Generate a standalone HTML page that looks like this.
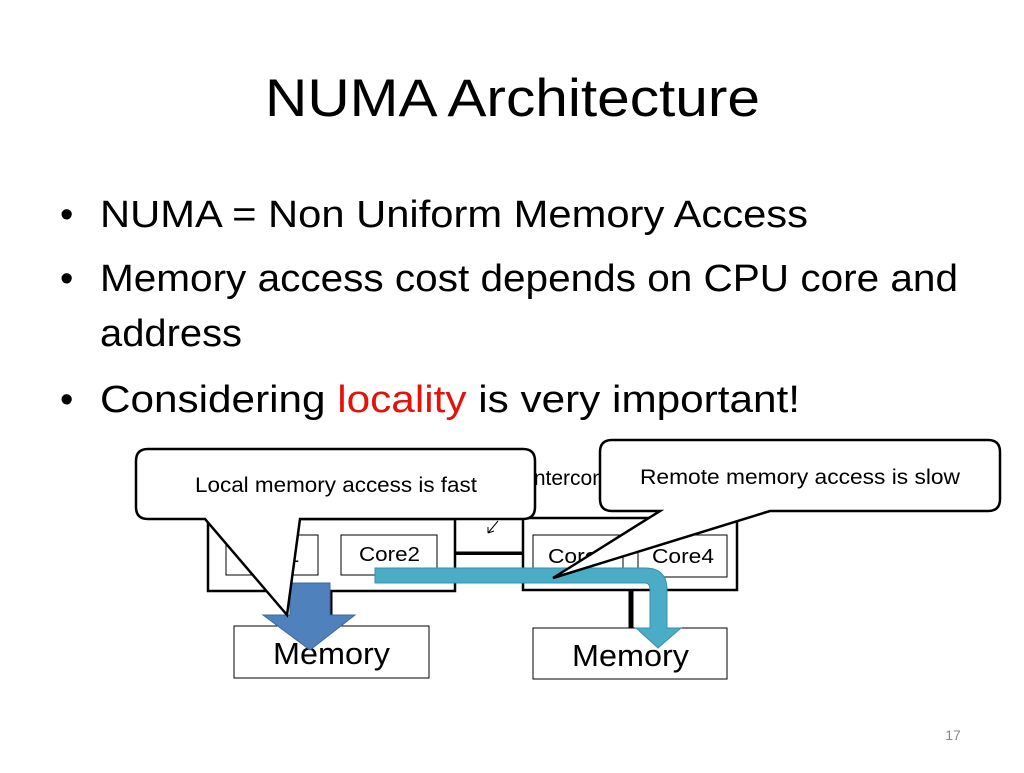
<!DOCTYPE html>
<html><head><meta charset="utf-8"><style>
body{margin:0;background:#fff;}
svg text{font-family:"Liberation Sans",sans-serif;}
</style></head><body>
<svg width="1024" height="768" viewBox="0 0 1024 768" xmlns="http://www.w3.org/2000/svg">
<text x="265" y="116" font-size="53" textLength="495" lengthAdjust="spacingAndGlyphs" fill="#000">NUMA Architecture</text>
<g font-size="38" fill="#000">
<text x="60" y="227">•</text><text x="100" y="227" textLength="708" lengthAdjust="spacingAndGlyphs">NUMA = Non Uniform Memory Access</text>
<text x="60" y="291">•</text><text x="100" y="291" textLength="858" lengthAdjust="spacingAndGlyphs">Memory access cost depends on CPU core and</text>
<text x="100" y="346" textLength="142" lengthAdjust="spacingAndGlyphs">address</text>
<text x="60" y="412">•</text><text x="100" y="412" textLength="700" lengthAdjust="spacingAndGlyphs">Considering <tspan fill="#e3120b">locality</tspan> is very important!</text>
</g>
<!-- interconnect -->
<text x="528" y="485" font-size="21">Interconnect</text>
<rect x="455" y="450" width="68" height="104" fill="none" stroke="#000" stroke-width="2"/>
<line x1="455" y1="553" x2="523" y2="553" stroke="#000" stroke-width="3"/>
<path d="M498 521 L488 533 M488 533 L488 527 M488 533 L494 531" stroke="#000" stroke-width="1" fill="none"/>
<!-- CPUs -->
<rect x="208" y="519" width="247" height="72" fill="#fff" stroke="#000" stroke-width="2.5"/>
<rect x="226" y="535" width="92" height="40" fill="#fff" stroke="#000" stroke-width="1"/>
<text x="272" y="562" font-size="20" text-anchor="middle">Core1</text>
<rect x="341" y="535" width="96" height="40" fill="#fff" stroke="#000" stroke-width="1"/>
<text x="359" y="561" font-size="20" textLength="61" lengthAdjust="spacingAndGlyphs">Core2</text>
<rect x="523" y="518" width="214" height="72" fill="#fff" stroke="#000" stroke-width="2.5"/>
<rect x="533" y="535" width="90" height="42" fill="#fff" stroke="#000" stroke-width="1"/>
<text x="548" y="563" font-size="20" textLength="62" lengthAdjust="spacingAndGlyphs">Core3</text>
<rect x="638" y="535" width="89" height="42" fill="#fff" stroke="#000" stroke-width="1"/>
<text x="652" y="563" font-size="20" textLength="62" lengthAdjust="spacingAndGlyphs">Core4</text>
<line x1="330" y1="591" x2="330" y2="626" stroke="#000" stroke-width="5"/>
<line x1="631" y1="590" x2="631" y2="628" stroke="#000" stroke-width="5"/>
<rect x="234" y="626" width="195" height="52" fill="#fff" stroke="#000" stroke-width="1"/>
<text x="273" y="664" font-size="31" textLength="117" lengthAdjust="spacingAndGlyphs">Memory</text>
<rect x="533" y="628" width="194" height="51" fill="#fff" stroke="#000" stroke-width="1"/>
<text x="572" y="666" font-size="31" textLength="117" lengthAdjust="spacingAndGlyphs">Memory</text>
<!-- teal arrow -->
<path d="M375 568 L645 568 Q667 568 667 590 L667 628 L681 628 L658 648 L636 628 L650 628 L650 590 Q650 583 645 583 L375 583 Z" fill="#4bacc6" stroke="#3a8fa8" stroke-width="1"/>
<!-- blue arrow -->
<path d="M290 583 L330 583 L330 615 L355 615 L310 650 L263 615 L290 615 Z" fill="#4f81bd" stroke="#3a6a9f" stroke-width="1"/>
<!-- callouts -->
<path d="M148 449 L523 449 Q535 449 535 461 L535 507 Q535 519 523 519 L300 519 L287 615 L205 519 L148 519 Q136 519 136 507 L136 461 Q136 449 148 449 Z" fill="#fff" stroke="#000" stroke-width="2.5"/>
<text x="195" y="492" font-size="21" textLength="282" lengthAdjust="spacingAndGlyphs">Local memory access is fast</text>
<path d="M612 440 L988 440 Q1000 440 1000 452 L1000 499 Q1000 511 988 511 L770 511 L553 578 L660 511 L612 511 Q600 511 600 499 L600 452 Q600 440 612 440 Z" fill="#fff" stroke="#000" stroke-width="2.5"/>
<text x="640" y="484" font-size="21" textLength="320" lengthAdjust="spacingAndGlyphs">Remote memory access is slow</text>
<text x="953" y="740" font-size="14" text-anchor="middle" fill="#888">17</text>
</svg>
</body></html>
